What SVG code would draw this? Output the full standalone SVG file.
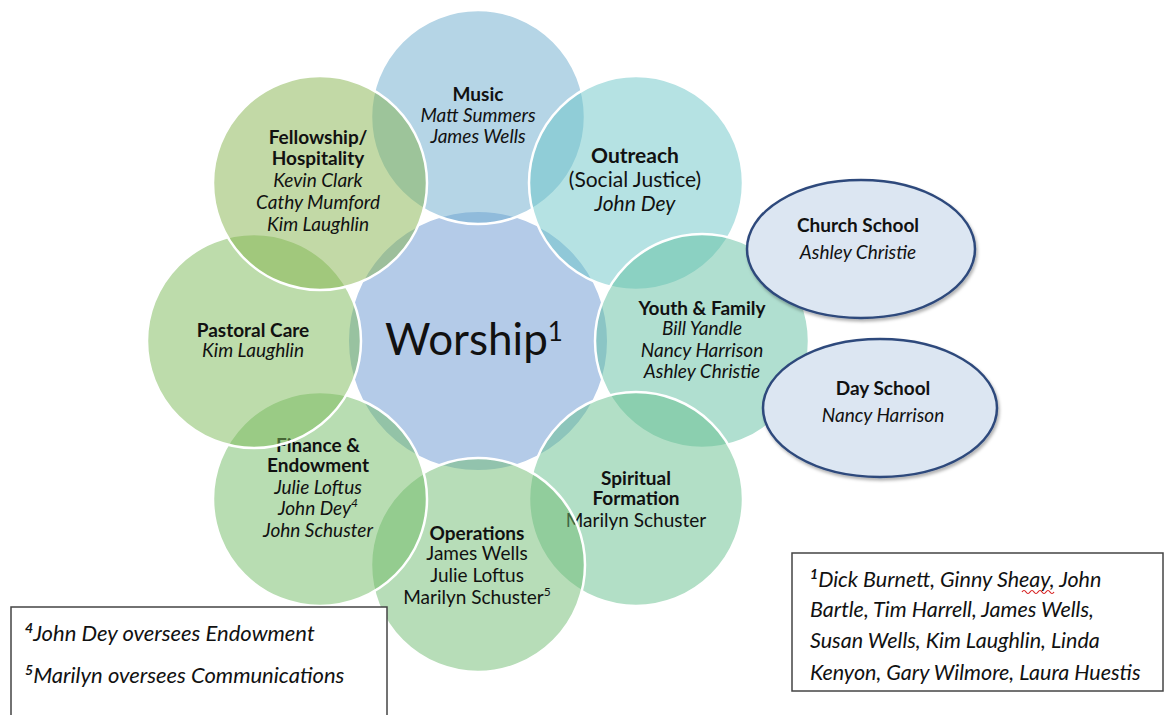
<svg xmlns="http://www.w3.org/2000/svg" width="1164" height="715" viewBox="0 0 1164 715">
<style>
  text { font-family: Lato, "Liberation Sans", sans-serif; fill: #111; text-anchor: middle; }
  .t { font-size: 19px; }
  .b { font-weight: bold; }
  .i { font-style: italic; }
  .sat { stroke: #ffffff; stroke-width: 2.5; fill-opacity: 0.5; }
  .oval { fill: #dce6f2; stroke: #2e4a7c; stroke-width: 2.5; }
  .note { font-style: italic; text-anchor: start; }
  .box { fill: #ffffff; stroke: #444444; stroke-width: 1.5; }
</style>
<defs>
  <filter id="sh" x="-10%" y="-10%" width="125%" height="130%">
    <feDropShadow dx="1.5" dy="2.5" stdDeviation="1.5" flood-color="#000" flood-opacity="0.3"/>
  </filter>
</defs>
<rect width="1164" height="715" fill="#ffffff"/>

<g id="worship">
  <circle cx="478" cy="341" r="130" fill="#b4cbe8" stroke="#ffffff" stroke-width="2"/>
</g>

<g id="music">
  <circle class="sat" cx="478" cy="117" r="107" fill="#6babcd"/>
  <text class="t b" x="478" y="101">Music</text>
  <text class="t i" x="478" y="122">Matt Summers</text>
  <text class="t i" x="478" y="143">James Wells</text>
</g>

<g id="outreach">
  <circle class="sat" cx="636" cy="183" r="107" fill="#6bc5c7"/>
  <text class="b" style="font-size:21px" x="635" y="163">Outreach</text>
  <text style="font-size:21px" x="635" y="187">(Social Justice)</text>
  <text class="i" style="font-size:21px" x="635" y="211">John Dey</text>
</g>

<g id="youth">
  <circle class="sat" cx="702" cy="341" r="107" fill="#61bfa1"/>
  <text class="t b" x="702" y="315">Youth &amp; Family</text>
  <text class="t i" x="702" y="335">Bill Yandle</text>
  <text class="t i" x="702" y="357">Nancy Harrison</text>
  <text class="t i" x="702" y="378">Ashley Christie</text>
</g>

<g id="spiritual">
  <circle class="sat" cx="636" cy="499" r="107" fill="#65bf8d"/>
  <text class="t b" x="636" y="485">Spiritual</text>
  <text class="t b" x="636" y="505">Formation</text>
  <text class="t" x="636" y="527">Marilyn Schuster</text>
</g>

<g id="operations">
  <circle class="sat" cx="478" cy="565" r="107" fill="#6fbb71"/>
  <text class="t b" x="477" y="540">Operations</text>
  <text class="t" x="477" y="560">James Wells</text>
  <text class="t" x="477" y="582">Julie Loftus</text>
  <text class="t" x="477" y="604">Marilyn Schuster<tspan font-size="12" dy="-8">5</tspan></text>
</g>

<g id="finance">
  <circle class="sat" cx="320" cy="499" r="107" fill="#71bb65"/>
  <text class="t b" x="318" y="452">Finance &amp;</text>
  <text class="t b" x="318" y="472">Endowment</text>
  <text class="t i" x="318" y="494">Julie Loftus</text>
  <text class="t i" x="318" y="515">John Dey<tspan font-size="12" dy="-8">4</tspan></text>
  <text class="t i" x="318" y="537">John Schuster</text>
</g>

<g id="pastoral">
  <circle class="sat" cx="254" cy="341" r="107" fill="#7bb957"/>
  <text class="t b" x="253" y="337">Pastoral Care</text>
  <text class="t i" x="253" y="357">Kim Laughlin</text>
</g>

<g id="fellowship">
  <circle class="sat" cx="320" cy="183" r="107" fill="#85b34d"/>
  <text class="t b" x="318" y="144">Fellowship/</text>
  <text class="t b" x="318" y="165">Hospitality</text>
  <text class="t i" x="318" y="187">Kevin Clark</text>
  <text class="t i" x="318" y="209">Cathy Mumford</text>
  <text class="t i" x="318" y="231">Kim Laughlin</text>
</g>

<g id="worship-label">
  <text x="474" y="355" style="font-size:44px">Worship<tspan font-size="26" dy="-14">1</tspan></text>
</g>

<g id="church-school">
  <ellipse class="oval" filter="url(#sh)" cx="861" cy="249" rx="114" ry="69"/>
  <text class="t b" x="858" y="232">Church School</text>
  <text class="t i" x="858" y="259">Ashley Christie</text>
</g>

<g id="day-school">
  <ellipse class="oval" filter="url(#sh)" cx="880" cy="408" rx="117" ry="69"/>
  <text class="t b" x="883" y="395">Day School</text>
  <text class="t i" x="883" y="422">Nancy Harrison</text>
</g>

<g id="footnote-left">
  <rect class="box" x="11" y="607" width="376" height="120"/>
  <text class="note" style="font-size:22px" x="25" y="641"><tspan font-size="14" font-weight="bold" dy="-8">4</tspan><tspan dy="8">John Dey oversees Endowment</tspan></text>
  <text class="note" style="font-size:22px" x="25" y="683"><tspan font-size="14" font-weight="bold" dy="-8">5</tspan><tspan dy="8">Marilyn oversees Communications</tspan></text>
</g>

<g id="footnote-right">
  <rect class="box" x="792" y="553" width="371" height="138"/>
  <text class="note" style="font-size:21.5px" x="810" y="587"><tspan font-size="14" font-weight="bold" dy="-8">1</tspan><tspan dy="8">Dick Burnett, Ginny Sheay, John</tspan></text>
  <text class="note" style="font-size:21.5px" x="810" y="617">Bartle, Tim Harrell, James Wells,</text>
  <text class="note" style="font-size:21.5px" x="810" y="648">Susan Wells, Kim Laughlin, Linda</text>
  <text class="note" style="font-size:21.5px" x="810" y="680">Kenyon, Gary Wilmore, Laura Huestis</text>
  <path d="M1022 592 q2 -3 4 0 t4 0 t4 0 t4 0 t4 0 t4 0 t4 0 t4 0" fill="none" stroke="#d62020" stroke-width="1.2"/>
</g>

<g id="connectors"></g>
</svg>
